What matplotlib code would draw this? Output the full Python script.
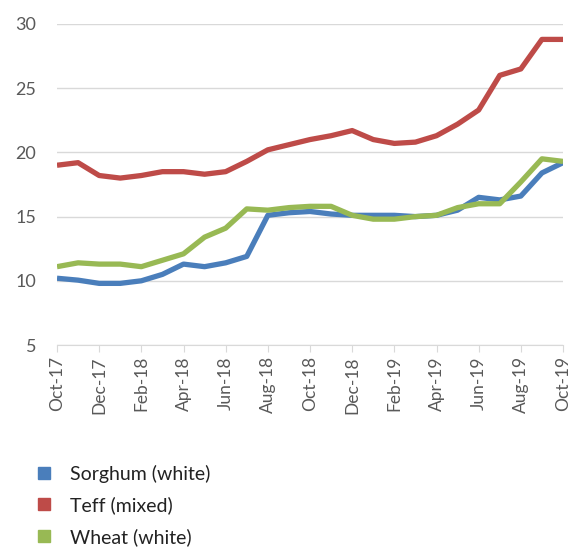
import matplotlib.pyplot as plt
from matplotlib.lines import Line2D

# monthly prices, Oct-17 .. Oct-19
months = ["Oct-17", "Nov-17", "Dec-17", "Jan-18", "Feb-18", "Mar-18", "Apr-18",
          "May-18", "Jun-18", "Jul-18", "Aug-18", "Sep-18", "Oct-18", "Nov-18",
          "Dec-18", "Jan-19", "Feb-19", "Mar-19", "Apr-19", "May-19", "Jun-19",
          "Jul-19", "Aug-19", "Sep-19", "Oct-19"]
sorghum = [10.2, 10.05, 9.8, 9.8, 10.0, 10.5, 11.3, 11.1, 11.4, 11.9, 15.1, 15.3,
           15.4, 15.2, 15.1, 15.1, 15.1, 15.0, 15.1, 15.5, 16.5, 16.3, 16.6, 18.4, 19.2]
teff = [19.0, 19.2, 18.2, 18.0, 18.2, 18.5, 18.5, 18.3, 18.5, 19.3, 20.2, 20.6,
        21.0, 21.3, 21.7, 21.0, 20.7, 20.8, 21.3, 22.2, 23.3, 26.0, 26.5, 28.8, 28.8]
wheat = [11.1, 11.4, 11.3, 11.3, 11.1, 11.6, 12.1, 13.4, 14.1, 15.6, 15.5, 15.7,
         15.8, 15.8, 15.1, 14.8, 14.8, 15.0, 15.1, 15.7, 16.0, 16.0, 17.7, 19.5, 19.3]
series_names = ["Sorghum (white)", "Teff (mixed)", "Wheat (white)"]
colors = ["#4a7ebb", "#be4b48", "#98b954"]

plt.rcParams['font.family'] = ['Lato', 'DejaVu Sans']

fig = plt.figure(figsize=(5.8, 5.52), dpi=100)
ax = fig.add_axes([57/580, 1 - 345/552, (563 - 57)/580, (345 - 24)/552])

x = list(range(len(months)))
for vals, c in zip([sorghum, teff, wheat], colors):
    ax.plot(x, vals, color=c, lw=3.8, solid_capstyle='butt', zorder=3)

ax.set_ylim(5, 30)
ax.set_yticks([5, 10, 15, 20, 25, 30])
ax.set_xlim(0, len(months) - 1)
ax.set_xticks(x[::2])
ax.set_xticklabels(months[::2], rotation=90)

ax.grid(axis='y', color='#d9d9d9', lw=1)
ax.set_axisbelow(True)
for s in ['top', 'right', 'left']:
    ax.spines[s].set_visible(False)
ax.spines['bottom'].set_color('#d9d9d9')
ax.tick_params(axis='y', length=0, labelsize=13, labelcolor='#595959', pad=15)
ax.tick_params(axis='x', length=5, color='#d9d9d9', labelsize=12.5,
               labelcolor='#595959', pad=3)

handles = [Line2D([], [], marker='s', ls='', color=c, markersize=8) for c in colors]
fig.legend(handles, series_names, loc='upper left', bbox_to_anchor=(0.012, 0.19),
           frameon=False, fontsize=14, handletextpad=0.35, labelspacing=0.7,
           labelcolor='#222222')

fig.savefig("out.png", dpi=100)
